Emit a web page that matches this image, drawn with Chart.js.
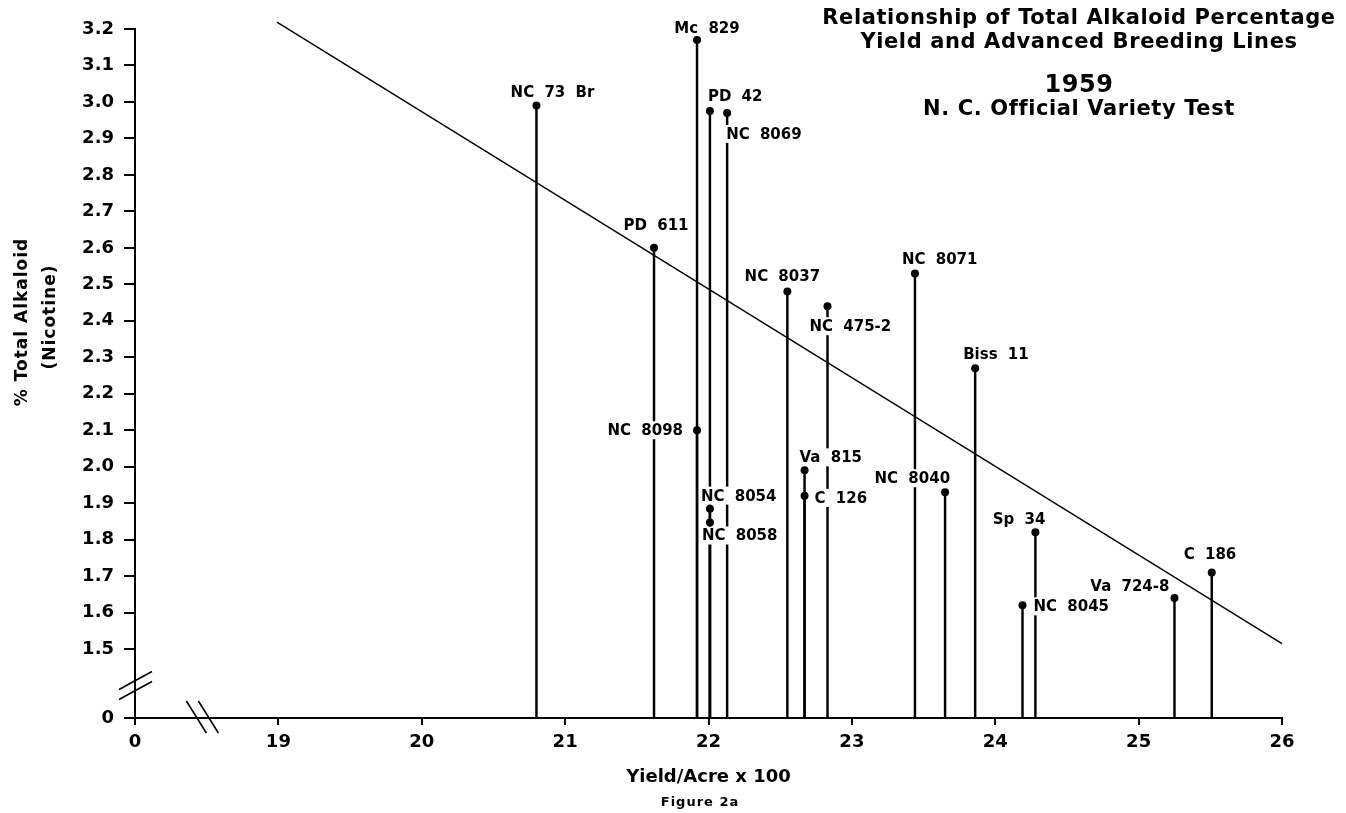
<!DOCTYPE html>
<html>
<head>
<meta charset="utf-8">
<script src="https://cdn.jsdelivr.net/npm/chart.js@4.4.0/dist/chart.umd.min.js"></script>
<style>
  html, body { margin: 0; padding: 0; background: #fff; }
  #wrap { width: 1346px; height: 813px; }
</style>
</head>
<body>
<div id="wrap"><canvas id="chart" width="1346" height="813"></canvas></div>
<script>
// breeding lines, 1959 N. C. Official Variety Test
const names = [
  "NC 73 Br", "PD 611", "Mc 829", "NC 8098", "PD 42", "NC 8054", "NC 8058",
  "NC 8069", "NC 8037", "Va 815", "C 126", "NC 475-2", "NC 8071", "NC 8040",
  "Biss 11", "NC 8045", "Sp 34", "Va 724-8", "C 186"
];
const yieldX = [
  20.80, 21.62, 21.92, 21.92, 22.01, 22.01, 22.01,
  22.13, 22.55, 22.67, 22.67, 22.83, 23.44, 23.65,
  23.86, 24.19, 24.28, 25.25, 25.51
];
const alkaloid = [
  2.99, 2.60, 3.17, 2.10, 2.975, 1.885, 1.847,
  2.97, 2.48, 1.99, 1.92, 2.44, 2.53, 1.93,
  2.27, 1.62, 1.82, 1.64, 1.71
];

// fitted line ends
const regX = [18.99, 26];
const regY = [3.219, 1.515];

// axis ticks (both axes are broken: the first tick stands for 0)
const xTicks = [18, 19, 20, 21, 22, 23, 24, 25, 26];
const yBreakBase = 1.311;
const yTicks = [1.5, 1.6, 1.7, 1.8, 1.9, 2.0, 2.1, 2.2, 2.3, 2.4, 2.5, 2.6, 2.7, 2.8, 2.9, 3.0, 3.1, 3.2];

// where each name sits around its dot: [dx, dy, align]
const labelPlace = [
  [16, -13, "center"], [2, -23, "center"], [10, -12, "center"], [-14, 0, "right"],
  [-2, -15, "left"], [-9, -13, "left"], [-8, 13, "left"],
  [-1, 21, "left"], [-5, -16, "center"], [-5, -13, "left"], [10, 2, "left"],
  [-18, 20, "left"], [-13, -14, "left"], [5, -14, "right"],
  [-12, -14, "left"], [11, 1, "left"], [10, -13, "right"], [-5, -12, "right"],
  [-28, -18, "left"]
];

const FONT = "'DejaVu Sans', sans-serif";
const points = names.map((n, i) => ({ x: yieldX[i], y: alkaloid[i] }));

// names with white boxes, drawn right after the stems so they cut them
const nameLabels = {
  id: "nameLabels",
  afterDatasetDraw(chart, args) {
    if (args.index !== 0) return;
    const ctx = chart.ctx;
    const xs = chart.scales.x, ys = chart.scales.y;
    ctx.save();
    ctx.font = "bold 15px " + FONT;
    ctx.wordSpacing = "5px";
    ctx.textBaseline = "middle";
    names.forEach((n, i) => {
      const [dx, dy, align] = labelPlace[i];
      const px = xs.getPixelForValue(yieldX[i]) + dx;
      const py = ys.getPixelForValue(alkaloid[i]) + dy;
      const w = ctx.measureText(n).width;
      let left = px;
      if (align === "center") left = px - w / 2;
      if (align === "right") left = px - w;
      ctx.fillStyle = "#fff";
      ctx.fillRect(left - 2, py - 9, w + 4, 18);
      ctx.fillStyle = "#000";
      ctx.textAlign = "left";
      ctx.fillText(n, left, py + 1);
    });
    ctx.restore();
  }
};

const decorations = {
  id: "decorations",
  afterDraw(chart) {
    const ctx = chart.ctx;
    const xs = chart.scales.x, ys = chart.scales.y;
    const ax = xs.getPixelForValue(18), ay = ys.getPixelForValue(yBreakBase);
    ctx.save();
    ctx.strokeStyle = "#000";
    ctx.lineWidth = 1.6;
    // y axis break
    const by = ys.getPixelForValue(1.40);
    [-5, 5].forEach(o => {
      ctx.beginPath();
      ctx.moveTo(ax - 16, by + 9 + o);
      ctx.lineTo(ax + 17, by - 9 + o);
      ctx.stroke();
    });
    // x axis break
    const bx = xs.getPixelForValue(18.47);
    [-6, 6].forEach(o => {
      ctx.beginPath();
      ctx.moveTo(bx - 10 + o, ay - 17);
      ctx.lineTo(bx + 10 + o, ay + 15);
      ctx.stroke();
    });

    ctx.fillStyle = "#000";
    ctx.textAlign = "center";
    ctx.textBaseline = "middle";
    ctx.letterSpacing = "0.6px";
    ctx.font = "bold 21px " + FONT;
    ctx.fillText("Relationship of Total Alkaloid Percentage", 1079, 19);
    ctx.fillText("Yield and Advanced Breeding Lines", 1079, 43);
    ctx.font = "bold 24px " + FONT;
    ctx.fillText("1959", 1079, 86);
    ctx.font = "bold 21px " + FONT;
    ctx.fillText("N. C. Official Variety Test", 1079, 110);

    ctx.letterSpacing = "1px";
    ctx.font = "bold 13px " + FONT;
    ctx.fillText("Figure 2a", 700, 803);

    // y axis title
    ctx.font = "bold 17px " + FONT;
    ctx.save();
    ctx.translate(23, 322);
    ctx.rotate(-Math.PI / 2);
    ctx.fillText("% Total Alkaloid", 0, 0);
    ctx.restore();
    ctx.save();
    ctx.translate(51, 317);
    ctx.rotate(-Math.PI / 2);
    ctx.fillText("(Nicotine)", 0, 0);
    ctx.restore();
    ctx.restore();
  }
};

new Chart(document.getElementById("chart"), {
  type: "scatter",
  plugins: [nameLabels, decorations],
  data: {
    datasets: [
      {
        type: "bar",
        data: points,
        backgroundColor: "#000",
        borderWidth: 0,
        barThickness: 1.8,
        order: 3
      },
      {
        type: "line",
        data: regX.map((x, i) => ({ x, y: regY[i] })),
        borderColor: "#000",
        borderWidth: 1.4,
        pointRadius: 0,
        fill: false,
        clip: false,
        order: 2
      },
      {
        type: "scatter",
        data: points,
        backgroundColor: "#000",
        borderWidth: 0,
        pointRadius: 4,
        order: 1
      }
    ]
  },
  options: {
    responsive: false,
    animation: false,
    devicePixelRatio: 1,
    layout: { padding: { top: 29, right: 64, left: 0, bottom: 0 } },
    plugins: { legend: { display: false }, tooltip: { enabled: false } },
    scales: {
      x: {
        type: "linear",
        min: 18,
        max: 26,
        offset: false,
        afterFit: s => { s.height = 95; },
        afterBuildTicks: s => { s.ticks = xTicks.map(v => ({ value: v })); },
        border: { display: true, color: "#000", width: 2 },
        grid: { display: true, drawOnChartArea: false, drawTicks: true, tickLength: 7, color: "#000", lineWidth: 2, offset: false },
        ticks: {
          color: "#000",
          padding: 7,
          maxRotation: 0,
          font: { family: FONT, size: 18, weight: "bold" },
          callback: v => (v === 18 ? "0" : String(v))
        },
        title: {
          display: true,
          text: "Yield/Acre x 100",
          color: "#000",
          font: { family: FONT, size: 18, weight: "bold" },
          padding: { top: 0, bottom: 25 }
        }
      },
      y: {
        type: "linear",
        min: yBreakBase,
        max: 3.2,
        afterFit: s => { s.width = 135; },
        afterBuildTicks: s => { s.ticks = [yBreakBase].concat(yTicks).map(v => ({ value: v })); },
        border: { display: true, color: "#000", width: 2 },
        grid: { display: true, drawOnChartArea: false, drawTicks: true, tickLength: 11, color: "#000", lineWidth: 2 },
        ticks: {
          color: "#000",
          padding: 10,
          font: { family: FONT, size: 18, weight: "bold" },
          callback: v => (v === yBreakBase ? "0" : v.toFixed(1))
        }
      }
    }
  }
});
</script>
</body>
</html>
